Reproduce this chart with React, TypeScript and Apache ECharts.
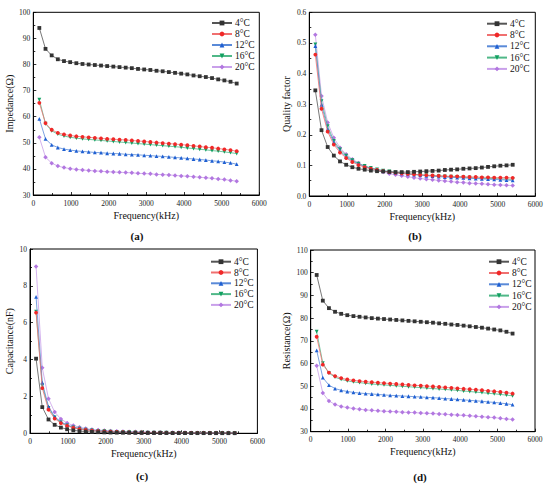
import React, { useEffect, useRef } from "react";
import * as echarts from "echarts";

const freq = [160, 324, 488, 651, 815, 979, 1143, 1306, 1470, 1634, 1798, 1961, 2125, 2289, 2453, 2616, 2780, 2944, 3108, 3271, 3435, 3599, 3763, 3926, 4090, 4254, 4418, 4581, 4745, 4909, 5073, 5236, 5400];
const seriesNames = ["4°C", "8°C", "12°C", "16°C", "20°C"];

// (a) Impedance (Ω)
const imp4 = [94, 86, 83.5, 82, 81.3, 80.9, 80.5, 80.2, 80, 79.8, 79.6, 79.4, 79.2, 79.0, 78.8, 78.6, 78.3, 78.1, 77.9, 77.6, 77.4, 77.1, 76.8, 76.5, 76.2, 75.8, 75.5, 75.2, 74.8, 74.3, 73.9, 73.4, 72.7];
const imp8 = [65.3, 57.5, 55, 53.8, 53.2, 52.8, 52.5, 52.3, 52.1, 51.9, 51.7, 51.5, 51.4, 51.2, 51.1, 50.9, 50.7, 50.5, 50.3, 50.1, 49.9, 49.7, 49.5, 49.3, 49.1, 48.8, 48.6, 48.3, 48.1, 47.8, 47.5, 47.2, 46.8];
const imp12 = [59.2, 51.5, 49.2, 48.2, 47.6, 47.2, 46.9, 46.7, 46.5, 46.3, 46.2, 46.0, 45.9, 45.8, 45.6, 45.5, 45.4, 45.2, 45.1, 44.9, 44.8, 44.6, 44.4, 44.2, 44.0, 43.8, 43.6, 43.4, 43.1, 42.9, 42.6, 42.3, 41.8];
const imp16 = [66.5, 57.3, 54.6, 53.3, 52.6, 52.1, 51.8, 51.5, 51.3, 51.1, 50.9, 50.7, 50.5, 50.3, 50.1, 49.9, 49.7, 49.5, 49.3, 49.1, 48.9, 48.7, 48.5, 48.3, 48.0, 47.8, 47.5, 47.3, 47.0, 46.8, 46.5, 46.2, 45.9];
const imp20 = [52.1, 44.5, 42.2, 41.1, 40.5, 40.1, 39.8, 39.6, 39.4, 39.2, 39.1, 38.9, 38.8, 38.7, 38.6, 38.5, 38.3, 38.2, 38.1, 37.9, 37.8, 37.7, 37.5, 37.3, 37.2, 37.0, 36.8, 36.6, 36.4, 36.1, 35.9, 35.6, 35.3];

// (b) Quality factor
const q4 = [0.345, 0.215, 0.16, 0.132, 0.113, 0.102, 0.094, 0.089, 0.086, 0.083, 0.081, 0.080, 0.079, 0.078, 0.078, 0.078, 0.079, 0.080, 0.081, 0.082, 0.083, 0.085, 0.086, 0.087, 0.089, 0.090, 0.091, 0.093, 0.095, 0.097, 0.099, 0.100, 0.102];
const q8 = [0.462, 0.285, 0.21, 0.168, 0.142, 0.124, 0.111, 0.101, 0.094, 0.089, 0.085, 0.081, 0.078, 0.076, 0.074, 0.072, 0.071, 0.069, 0.068, 0.067, 0.066, 0.065, 0.064, 0.064, 0.063, 0.062, 0.062, 0.061, 0.061, 0.060, 0.060, 0.060, 0.059];
const q12 = [0.49, 0.298, 0.218, 0.175, 0.147, 0.128, 0.114, 0.104, 0.096, 0.090, 0.086, 0.082, 0.079, 0.076, 0.074, 0.072, 0.070, 0.068, 0.066, 0.065, 0.063, 0.062, 0.061, 0.060, 0.059, 0.058, 0.057, 0.056, 0.055, 0.054, 0.053, 0.052, 0.051];
const q16 = [0.495, 0.31, 0.228, 0.18, 0.152, 0.132, 0.117, 0.106, 0.098, 0.092, 0.087, 0.083, 0.080, 0.077, 0.075, 0.073, 0.071, 0.069, 0.068, 0.066, 0.065, 0.064, 0.063, 0.062, 0.061, 0.060, 0.059, 0.058, 0.057, 0.057, 0.056, 0.055, 0.055];
const q20 = [0.527, 0.327, 0.24, 0.19, 0.158, 0.136, 0.12, 0.108, 0.098, 0.090, 0.084, 0.078, 0.073, 0.069, 0.066, 0.063, 0.060, 0.057, 0.055, 0.053, 0.051, 0.049, 0.047, 0.045, 0.044, 0.042, 0.041, 0.040, 0.038, 0.037, 0.036, 0.035, 0.034];

// (c) Capacitance (nF)
const c4 = [4.05, 1.42, 0.75, 0.46, 0.31, 0.22, 0.16, 0.12, 0.095, 0.075, 0.06, 0.05, 0.042, 0.036, 0.031, 0.027, 0.024, 0.021, 0.019, 0.017, 0.015, 0.014, 0.013, 0.012, 0.011, 0.010, 0.009, 0.009, 0.008, 0.008, 0.007, 0.007, 0.006];
const c8 = [6.55, 2.45, 1.28, 0.8, 0.55, 0.4, 0.3, 0.23, 0.18, 0.145, 0.12, 0.1, 0.085, 0.073, 0.063, 0.055, 0.048, 0.043, 0.038, 0.034, 0.031, 0.028, 0.026, 0.024, 0.022, 0.020, 0.019, 0.017, 0.016, 0.015, 0.014, 0.013, 0.012];
const c12 = [7.4, 2.75, 1.45, 0.9, 0.62, 0.45, 0.34, 0.26, 0.21, 0.17, 0.14, 0.115, 0.097, 0.083, 0.072, 0.063, 0.055, 0.049, 0.044, 0.039, 0.035, 0.032, 0.029, 0.027, 0.025, 0.023, 0.021, 0.019, 0.018, 0.017, 0.016, 0.015, 0.014];
const c16 = [6.6, 2.6, 1.38, 0.86, 0.59, 0.43, 0.32, 0.25, 0.2, 0.16, 0.13, 0.11, 0.092, 0.079, 0.068, 0.06, 0.053, 0.047, 0.042, 0.038, 0.034, 0.031, 0.028, 0.026, 0.024, 0.022, 0.02, 0.019, 0.017, 0.016, 0.015, 0.014, 0.013];
const c20 = [9.05, 3.55, 1.88, 1.15, 0.78, 0.56, 0.42, 0.33, 0.26, 0.21, 0.18, 0.15, 0.13, 0.11, 0.098, 0.087, 0.078, 0.07, 0.063, 0.057, 0.052, 0.048, 0.044, 0.041, 0.038, 0.035, 0.033, 0.031, 0.029, 0.027, 0.026, 0.024, 0.023];

// (d) Resistance (Ω)
const r4 = [99, 87.7, 84.4, 82.8, 81.9, 81.3, 80.9, 80.6, 80.3, 80.0, 79.8, 79.6, 79.4, 79.2, 79.0, 78.8, 78.6, 78.4, 78.2, 78.0, 77.7, 77.5, 77.2, 77.0, 76.7, 76.4, 76.1, 75.8, 75.4, 75.0, 74.6, 74.0, 73.2];
const r8 = [71.8, 59.5, 56.0, 54.5, 53.6, 53.0, 52.6, 52.3, 52.0, 51.8, 51.6, 51.4, 51.2, 51.0, 50.8, 50.6, 50.4, 50.3, 50.1, 49.9, 49.7, 49.5, 49.3, 49.1, 48.9, 48.7, 48.5, 48.3, 48.0, 47.8, 47.5, 47.2, 46.8];
const r12 = [65.8, 53.8, 50.5, 49.0, 48.2, 47.7, 47.3, 47.0, 46.8, 46.6, 46.4, 46.2, 46.0, 45.9, 45.7, 45.6, 45.4, 45.3, 45.1, 45.0, 44.8, 44.6, 44.4, 44.2, 44.0, 43.8, 43.6, 43.4, 43.1, 42.9, 42.6, 42.3, 41.9];
const r16 = [74, 60.2, 55.8, 54.0, 53.0, 52.4, 51.9, 51.6, 51.3, 51.0, 50.8, 50.6, 50.4, 50.2, 50.0, 49.8, 49.6, 49.4, 49.2, 49.0, 48.8, 48.6, 48.4, 48.2, 47.9, 47.7, 47.4, 47.2, 46.9, 46.7, 46.4, 46.1, 45.8];
const r20 = [59, 47, 43.5, 42.0, 41.1, 40.6, 40.2, 39.9, 39.6, 39.4, 39.2, 39.0, 38.9, 38.8, 38.6, 38.5, 38.4, 38.2, 38.1, 38.0, 37.8, 37.7, 37.5, 37.3, 37.2, 37.0, 36.8, 36.6, 36.4, 36.2, 35.9, 35.6, 35.4];

const xTicks = [0, 1000, 2000, 3000, 4000, 5000, 6000];

const FONT = "Liberation Serif";
const colors = ["#333333", "#f02828", "#1e5fd2", "#10a060", "#b277e0"];
const lineColors = ["#555555", "#f07070", "#5a8ad8", "#50b888", "#c9a0ea"];
const symbols = ["rect", "circle", "triangle", "path://M0,0 L10,0 L5,9 Z", "diamond"];

export default function App() {
  const ref = useRef<HTMLDivElement>(null);
  useEffect(() => {
    if (!ref.current) return;
    const chart = echarts.init(ref.current, undefined, { renderer: "svg" });

    const panels = [
      { data: [imp4, imp8, imp12, imp16, imp20], grid: { left: 33.3, top: 12.3, width: 226, height: 182.7 }, y: { min: 30, max: 100, interval: 10, name: "Impedance(Ω)", gap: 19, dec: 0 }, legend: { left: 211, top: 18, gap: 1 }, label: { text: "(a)", x: 137, y: 236 } },
      { data: [q4, q8, q12, q16, q20], grid: { left: 309.3, top: 12.3, width: 226, height: 183.7 }, y: { min: 0, max: 0.6, interval: 0.1, name: "Quality factor", gap: 18, dec: 1 }, legend: { left: 486, top: 18.7, gap: 1.3 }, label: { text: "(b)", x: 415, y: 236 } },
      { data: [c4, c8, c12, c16, c20], grid: { left: 30, top: 249, width: 227.4, height: 184.3 }, y: { min: 0, max: 10, interval: 2, name: "Capacitance(nF)", gap: 16, dec: 0 }, legend: { left: 210, top: 256.7, gap: 0.8 }, label: { text: "(c)", x: 142, y: 476 } },
      { data: [r4, r8, r12, r16, r20], grid: { left: 310.7, top: 250, width: 224.3, height: 181.7 }, y: { min: 30, max: 110, interval: 10, name: "Resistance(Ω)", gap: 19, dec: 0 }, legend: { left: 488, top: 256.7, gap: 1.3 }, label: { text: "(d)", x: 420, y: 477 } },
    ];

    const grids: any[] = [];
    const xAxes: any[] = [];
    const yAxes: any[] = [];
    const legends: any[] = [];
    const series: any[] = [];
    const graphics: any[] = [];

    const axisCommon = {
      axisLine: { show: true, lineStyle: { color: "#000", width: 1 } },
      axisTick: { show: true, inside: true, length: 3, lineStyle: { color: "#000", width: 0.8 } },
      minorTick: { show: true, splitNumber: 2, length: 2, lineStyle: { color: "#000", width: 0.8 } },
      splitLine: { show: false },
      nameTextStyle: { fontFamily: FONT, fontSize: 10, fontWeight: "normal", color: "#111" },
    };

    panels.forEach((p, i) => {
      grids.push({ ...p.grid, show: true, borderColor: "#000", borderWidth: 1, backgroundColor: "transparent" });
      xAxes.push({
        ...axisCommon,
        type: "value",
        gridIndex: i,
        min: 0,
        max: 6000,
        interval: 1000,
        name: "Frequency(kHz)",
        nameLocation: "middle",
        nameGap: 15,
        axisLabel: { fontFamily: FONT, fontSize: 7.5, fontWeight: "normal", color: "#222", margin: 4, formatter: (v: number) => (xTicks.includes(v) ? String(v) : "") },
      });
      yAxes.push({
        ...axisCommon,
        type: "value",
        gridIndex: i,
        min: p.y.min,
        max: p.y.max,
        interval: p.y.interval,
        name: p.y.name,
        nameLocation: "middle",
        nameRotate: 90,
        nameGap: p.y.gap,
        axisLabel: { fontFamily: FONT, fontSize: 7.5, fontWeight: "normal", color: "#222", margin: 3, formatter: (v: number) => v.toFixed(p.y.dec) },
      });
      legends.push({
        data: seriesNames,
        orient: "vertical",
        left: p.legend.left,
        top: p.legend.top,
        itemWidth: 20,
        itemHeight: 6,
        itemGap: p.legend.gap,
        padding: 0,
        textStyle: { fontFamily: FONT, fontSize: 9.5, fontWeight: "normal", color: "#111", padding: [0, 0, 0, -2] },
      });
      p.data.forEach((vals, k) => {
        series.push({
          type: "line",
          name: seriesNames[k],
          xAxisIndex: i,
          yAxisIndex: i,
          data: freq.map((f, j) => [f, vals[j]]),
          symbol: symbols[k],
          symbolSize: k === 4 ? 4.5 : 3.8,
          showAllSymbol: true,
          itemStyle: { color: colors[k] },
          lineStyle: { color: lineColors[k], width: 0.8 },
          z: 10 - k,
        });
      });
      graphics.push({
        type: "text",
        x: p.label.x,
        y: p.label.y,
        style: { text: p.label.text, font: `bold 11px "${FONT}"`, fill: "#111", textAlign: "center", textVerticalAlign: "middle" },
      });
    });

    chart.setOption({
      animation: false,
      backgroundColor: "#fff",
      textStyle: { fontFamily: FONT },
      grid: grids,
      xAxis: xAxes,
      yAxis: yAxes,
      legend: legends,
      series,
      graphic: graphics,
    });
    return () => chart.dispose();
  }, []);
  return <div ref={ref} style={{ position: "fixed", left: 0, top: 0, width: 550, height: 485 }} />;
}
